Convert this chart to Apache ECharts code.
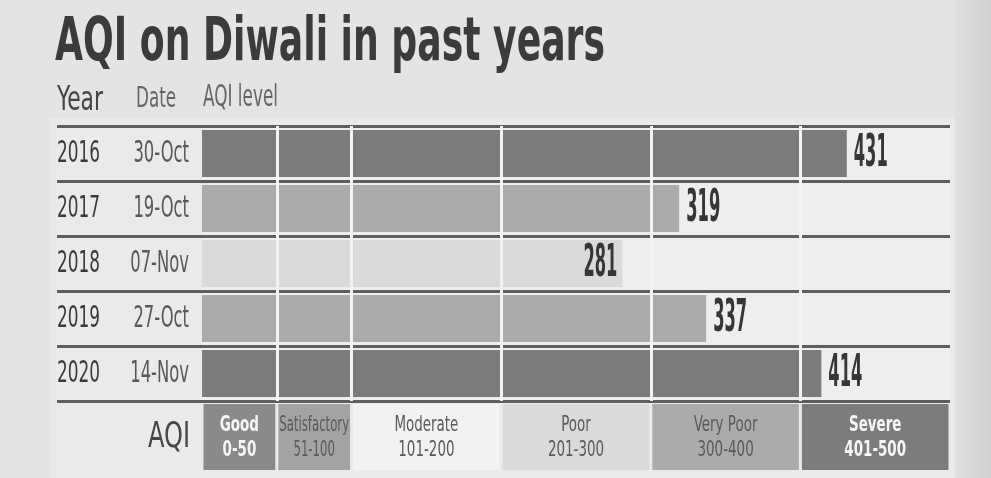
<!DOCTYPE html>
<html>
<head>
<meta charset="utf-8">
<script src="https://cdn.jsdelivr.net/npm/echarts@6/dist/echarts.min.js"></script>
<style>
html,body{margin:0;padding:0;background:#e4e4e4;}
#chartsbox{width:991px;height:478px;}
</style>
</head>
<body>
<div id="chartsbox"></div>
<script>
var years = ['2016', '2017', '2018', '2019', '2020'];
var dates = ['30-Oct', '19-Oct', '07-Nov', '27-Oct', '14-Nov'];
var aqiValues = [431, 319, 281, 337, 414];

// AQI bands (legend strip at the bottom)
var bandNames = ['Good', 'Satisfactory', 'Moderate', 'Poor', 'Very Poor', 'Severe'];
var bandRanges = ['0-50', '51-100', '101-200', '201-300', '300-400', '401-500'];
var bandUpper = [50, 100, 200, 300, 400, 500];
var bandColors = ['#8a8a8a', '#a3a3a3', '#f2f2f2', '#dadada', '#ababab', '#7c7c7c'];
var bandText = ['#f6f6f6', '#5a5a5a', '#5a5a5a', '#5a5a5a', '#5a5a5a', '#f6f6f6'];

var NARROW = "'Liberation Sans Narrow','DejaVu Sans Condensed','Liberation Sans',sans-serif";

// the paper uses a very condensed face, so texts get squeezed with scaleX
var measureCtx = document.createElement('canvas').getContext('2d');
function textWidth(str, font) {
    measureCtx.font = font;
    return measureCtx.measureText(str).width;
}
function fontOf(size, weight) {
    return (weight || 'normal') + ' ' + size + 'px ' + NARROW;
}
function squeezedText(str, x, y, size, weight, color, targetW) {
    var font = fontOf(size, weight);
    return {
        type: 'text', x: x, y: y, silent: true, z: 10,
        scaleX: targetW / textWidth(str, font),
        style: { text: str, font: font, fill: color, textAlign: 'left', textVerticalAlign: 'middle', verticalAlign: 'middle' }
    };
}

function bandOf(v) {
    for (var i = 0; i < bandUpper.length; i++) {
        if (v <= bandUpper[i]) return i;
    }
    return bandUpper.length - 1;
}

// squeeze factors, taken from how wide "2016" and "431" are in print
var rowFont = fontOf(31);
var rowScale = 43 / textWidth('2016', rowFont);
var valFont = fontOf(44, 'bold');
var valScale = 34 / textWidth('431', valFont);
var bandFont = fontOf(22);
var bandFontBold = fontOf(22, 'bold');
var aqiFont = fontOf(36);

var barData = aqiValues.map(function (v) {
    return { value: v, itemStyle: { color: bandColors[bandOf(v)] } };
});

// row labels (year, date) and value numbers, placed through the axes
function renderRowText(params, api) {
    var i = params.dataIndex;
    var v = api.value(0);
    var end = api.coord([v, api.value(1)]);
    var start = api.coord([0, api.value(1)]);
    var inside = bandOf(v) === 3;   // the light "poor" bar keeps its number inside
    return {
        type: 'group',
        children: [
            { type: 'text', x: start[0] - 145, y: end[1], scaleX: rowScale,
              style: { text: years[i], font: rowFont, fill: '#3a3a3a', textAlign: 'left', textVerticalAlign: 'middle', verticalAlign: 'middle' } },
            { type: 'text', x: start[0] - 13, y: end[1], scaleX: rowScale * 0.97,
              style: { text: dates[i], font: rowFont, fill: '#585858', textAlign: 'right', textVerticalAlign: 'middle', verticalAlign: 'middle' } },
            { type: 'text', x: inside ? end[0] - 5 : end[0] + 7, y: end[1] + 1, scaleX: valScale,
              style: { text: String(v), font: valFont, fill: '#363636', textAlign: inside ? 'right' : 'left', textVerticalAlign: 'middle', verticalAlign: 'middle' } }
        ]
    };
}

// legend boxes of the AQI bands, plus the "AQI" caption left of them
function renderBand(params, api) {
    var i = params.dataIndex;
    var p0 = api.coord([api.value(0), 0]);
    var p1 = api.coord([api.value(1), 0]);
    var h = api.size([0, 1])[1];
    var w = p1[0] - p0[0];
    var bold = (i === 0 || i === 5);
    var font = bold ? bandFontBold : bandFont;
    var txt = bandNames[i] + '\n' + bandRanges[i];
    var natural = Math.max(textWidth(bandNames[i], font), textWidth(bandRanges[i], font));
    var sc = Math.min(0.68, (w - 5) / natural);
    var children = [
        { type: 'rect', shape: { x: p0[0] + 1.5, y: p0[1] - h / 2, width: w - 3, height: h }, style: { fill: bandColors[i] } },
        { type: 'text', x: p0[0] + w / 2, y: p0[1] + 1, scaleX: sc,
          style: { text: txt, font: font, lineHeight: 25, fill: bandText[i], textAlign: 'center', textVerticalAlign: 'middle', verticalAlign: 'middle' } }
    ];
    if (i === 0) {
        children.push({ type: 'text', x: p0[0] - 12, y: p0[1] + 1, scaleX: 42 / textWidth('AQI', aqiFont),
          style: { text: 'AQI', font: aqiFont, fill: '#464646', textAlign: 'right', textVerticalAlign: 'middle', verticalAlign: 'middle' } });
    }
    return { type: 'group', children: children };
}

var myChart = echarts.init(document.getElementById('chartsbox'));
var option = {
    animation: false,
    backgroundColor: '#e4e4e4',
    graphic: [
        { type: 'rect', silent: true, z: -10, shape: { x: 50, y: 118, width: 905, height: 360 }, style: { fill: '#eaeaea' } },
        {
            type: 'rect', silent: true, z: -10, shape: { x: 955, y: 0, width: 36, height: 478 },
            style: { fill: new echarts.graphic.LinearGradient(0, 0, 1, 0, [{ offset: 0, color: '#e0e0e0' }, { offset: 1, color: '#d0d0d0' }]) }
        },
        squeezedText('AQI on Diwali in past years', 55, 44, 60, 'bold', '#3b3b3b', 550),
        squeezedText('Year', 57, 101, 34, 'normal', '#454545', 46),
        squeezedText('Date', 136, 99, 29, 'normal', '#666666', 40),
        squeezedText('AQI level', 203, 98, 31, 'normal', '#666666', 75)
    ],
    grid: [
        { left: 202, right: 41, top: 126, height: 275, backgroundColor: '#eeeeee', show: true, borderWidth: 0 },
        { left: 202, right: 41, top: 404, height: 66 }
    ],
    xAxis: [
        { gridIndex: 0, type: 'value', min: 0, max: 500, show: false },
        { gridIndex: 1, type: 'value', min: 0, max: 500, show: false }
    ],
    yAxis: [
        {
            gridIndex: 0, type: 'category', data: years, inverse: true,
            axisLine: { show: false },
            axisLabel: { show: false },
            axisTick: { show: true, length: 145, lineStyle: { color: '#5e5e5e', width: 3 } },
            splitLine: { show: true, lineStyle: { color: '#5e5e5e', width: 3 } }
        },
        {
            gridIndex: 1, type: 'category', data: ['AQI'],
            axisLine: { show: false }, axisTick: { show: false }, axisLabel: { show: false }
        }
    ],
    series: [
        {
            type: 'bar', xAxisIndex: 0, yAxisIndex: 0,
            barWidth: 47,
            data: barData,
            markLine: {
                silent: true, symbol: 'none',
                label: { show: false },
                lineStyle: { color: '#f3f3f3', width: 3, type: 'solid' },
                data: bandUpper.slice(0, 5).map(function (v) { return { xAxis: v }; })
            }
        },
        {
            type: 'custom', xAxisIndex: 0, yAxisIndex: 0, z: 5,
            renderItem: renderRowText,
            encode: { x: 0, y: 1 },
            data: aqiValues.map(function (v, i) { return [v, i]; })
        },
        {
            type: 'custom', xAxisIndex: 1, yAxisIndex: 1,
            renderItem: renderBand,
            encode: { x: [0, 1] },
            data: bandUpper.map(function (u, i) { return [i ? bandUpper[i - 1] : 0, u]; })
        }
    ]
};
myChart.setOption(option);
</script>
</body>
</html>
